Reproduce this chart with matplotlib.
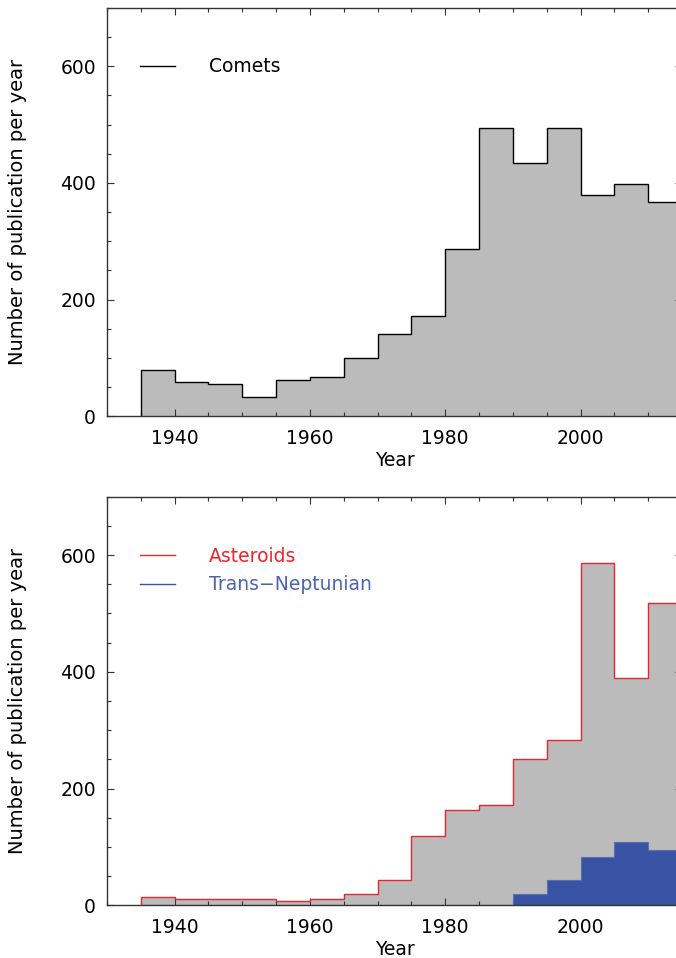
#!/usr/bin/env python3
import numpy as np
import matplotlib
matplotlib.use("Agg")
import matplotlib.pyplot as plt
from matplotlib.lines import Line2D
from matplotlib.ticker import MultipleLocator

# bin start years (5-year bins)
years = [1935, 1940, 1945, 1950, 1955, 1960, 1965, 1970,
         1975, 1980, 1985, 1990, 1995, 2000, 2005, 2010]
bin_width = 5

comets = [80, 58, 55, 33, 63, 67, 100, 141,
          172, 286, 494, 434, 494, 379, 399, 368]
asteroids = [14, 11, 11, 11, 7, 10, 19, 43,
             119, 164, 171, 251, 283, 586, 389, 518]
tno = [0, 0, 0, 0, 0, 0, 0, 0,
       0, 0, 0, 19, 43, 82, 108, 95]

edges = np.append(years, years[-1] + bin_width)

gray = "#bbbbbb"
red = "#e8262d"
blue = "#3953a4"
fs = 13.5

plt.rcParams["font.family"] = "DejaVu Sans"

fig = plt.figure(figsize=(6.76, 9.58), dpi=100)
ax1 = fig.add_axes([0.1583, 0.5655, 0.8506, 0.4262])
ax2 = fig.add_axes([0.1583, 0.0550, 0.8506, 0.4265])

def style(ax):
    ax.set_xlim(1930, 2015)
    ax.set_ylim(0, 700)
    ax.xaxis.set_major_locator(MultipleLocator(20))
    ax.xaxis.set_minor_locator(MultipleLocator(5))
    ax.yaxis.set_major_locator(MultipleLocator(200))
    ax.yaxis.set_minor_locator(MultipleLocator(50))
    ax.tick_params(which="both", direction="in", top=True, right=True,
                   width=0.8, color="#333333", labelsize=fs)
    ax.tick_params(which="major", length=5)
    ax.tick_params(which="minor", length=3.2)
    ax.tick_params(axis="x", pad=9)
    ax.tick_params(axis="y", pad=8)
    for s in ax.spines.values():
        s.set_color("#333333")
        s.set_linewidth(1.0)
    ax.set_xlabel("Year", fontsize=fs, labelpad=2)
    ax.set_ylabel("Number of publication per year", fontsize=14)
    ax.yaxis.set_label_coords(-0.14, 0.5)

# top: comets
ax1.stairs(comets, edges, fill=True, color=gray, zorder=1)
ax1.stairs(comets, edges, color="black", linewidth=1.0, zorder=2)
style(ax1)
h1 = [Line2D([], [], color="black", linewidth=1.0)]
ax1.legend(h1, ["Comets"], loc="center left", bbox_to_anchor=(0.0574, 0.856),
           frameon=False, fontsize=fs, handlelength=1.87, handletextpad=1.8,
           borderpad=0, borderaxespad=0)

# bottom: asteroids and trans-neptunian
ax2.stairs(asteroids, edges, fill=True, color=gray, zorder=1)
ax2.stairs(asteroids, edges, color=red, linewidth=1.0, zorder=3)
ax2.stairs(tno, edges, fill=True, color=blue, zorder=2)
ax2.stairs(tno, edges, color="#5a70b5", linewidth=0.8, zorder=2)
style(ax2)
h2 = [Line2D([], [], color=red, linewidth=1.0),
      Line2D([], [], color=blue, linewidth=1.0)]
leg = ax2.legend(h2, ["Asteroids", "Trans\u2212Neptunian"], loc="center left",
                 bbox_to_anchor=(0.0574, 0.819), frameon=False, fontsize=fs,
                 handlelength=1.87, handletextpad=1.8, labelspacing=0.5,
                 borderpad=0, borderaxespad=0)
leg.get_texts()[0].set_color(red)
leg.get_texts()[1].set_color("#4a64b0")

fig.savefig("out.png", dpi=100)
